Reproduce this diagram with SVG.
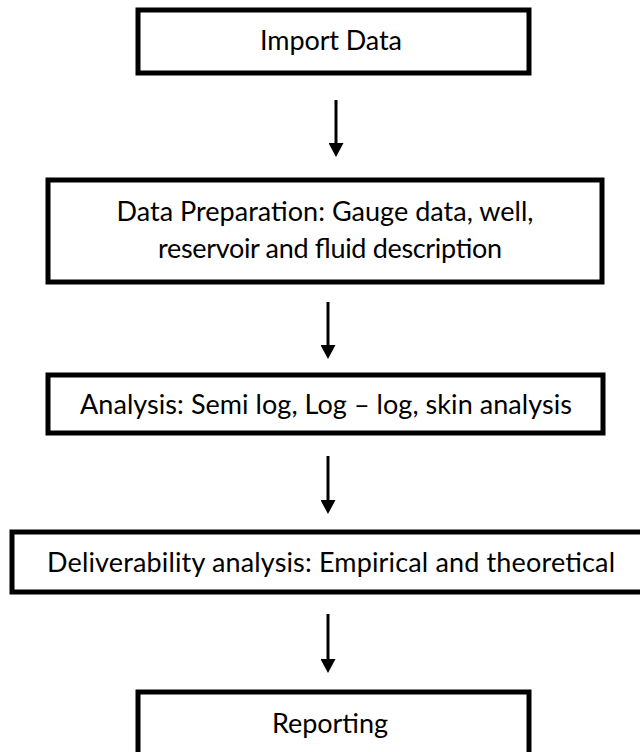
<svg xmlns="http://www.w3.org/2000/svg" width="640" height="752" viewBox="0 0 640 752">
<defs>
<marker id="ah" markerWidth="14" markerHeight="15" refX="4" refY="7.5" orient="auto" markerUnits="userSpaceOnUse" viewBox="0 0 14 15">
<path d="M0,0 L14,7.5 L0,15 Z" fill="#000"/>
</marker>
</defs>
<style>
.box{fill:#fff;stroke:#000;stroke-width:5}
.lbl{font-family:Lato,"Liberation Sans",sans-serif;font-size:27px;fill:#000;text-anchor:middle}
.conn line{stroke:#000;stroke-width:3;marker-end:url(#ah)}
</style>
<rect width="640" height="752" fill="#fff"/>
<g id="n1"><rect class="box" x="138" y="10" width="391" height="63"/><text class="lbl" x="331" y="50" textLength="142">Import Data</text></g>
<g id="n2"><rect class="box" x="48" y="180" width="554" height="102"/><text class="lbl" x="325" y="221" textLength="417">Data Preparation: Gauge data, well,</text><text class="lbl" x="330" y="258" textLength="344">reservoir and fluid description</text></g>
<g id="n3"><rect class="box" x="48" y="375" width="555" height="58"/><text class="lbl" x="326" y="414" textLength="492">Analysis: Semi log, Log – log, skin analysis</text></g>
<g id="n4"><rect class="box" x="12" y="532" width="640" height="60"/><text class="lbl" x="331" y="572" textLength="568">Deliverability analysis: Empirical and theoretical</text></g>
<g id="n5"><rect class="box" x="138" y="692" width="391" height="80"/><text class="lbl" x="330" y="733" textLength="116">Reporting</text></g>
<g id="connectors" class="conn">
<line x1="336" y1="100" x2="336" y2="147"/>
<line x1="328" y1="302" x2="328" y2="349"/>
<line x1="328" y1="456" x2="328" y2="504"/>
<line x1="328" y1="614" x2="328" y2="663"/>
</g>
</svg>
